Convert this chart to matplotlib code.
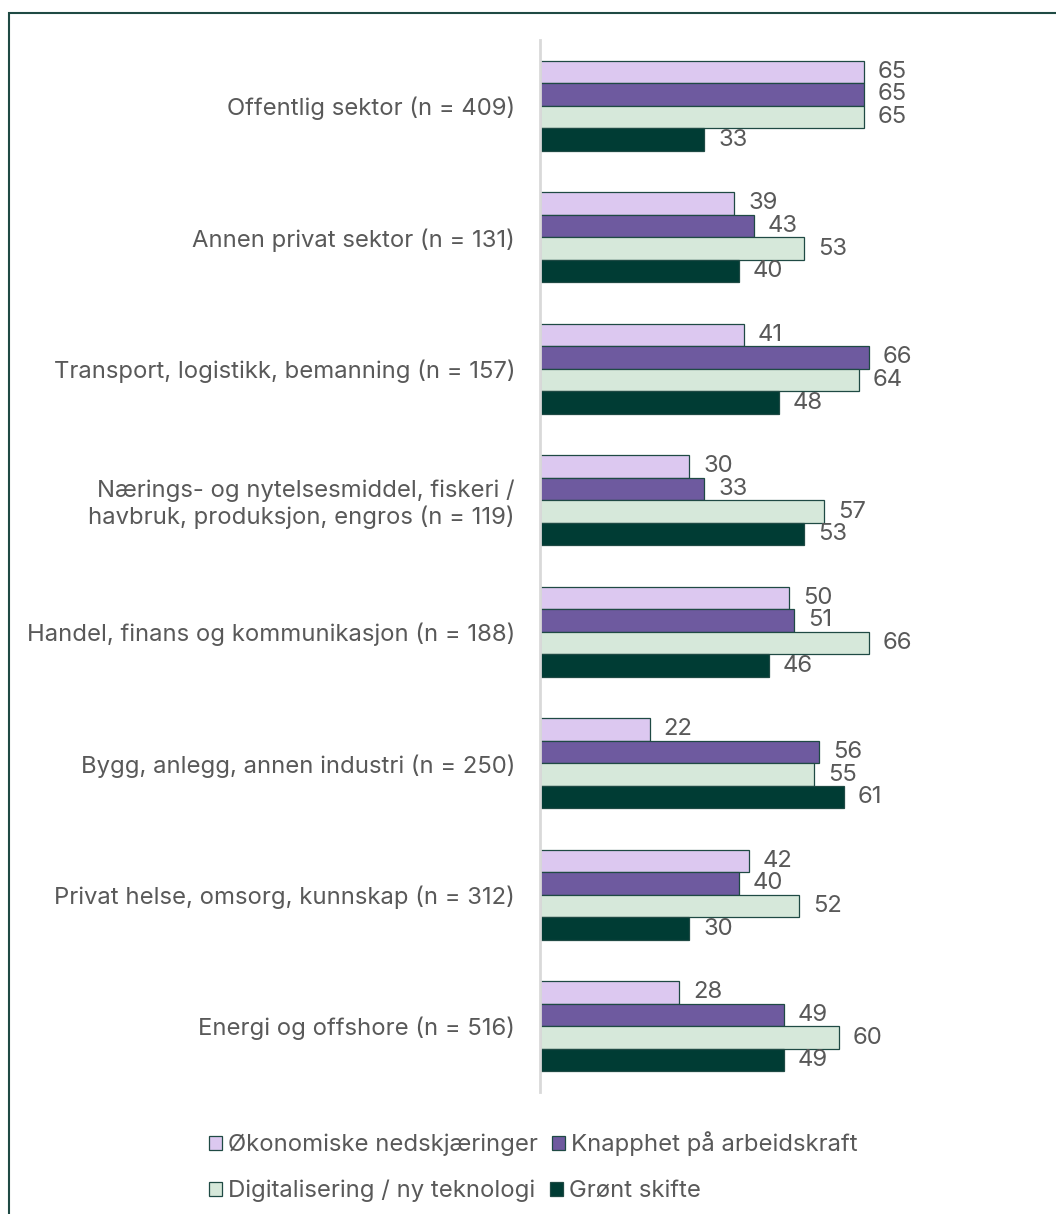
import matplotlib.pyplot as plt
from matplotlib.patches import Rectangle, Patch
import numpy as np

plt.rcParams['font.family'] = ['Inter', 'DejaVu Sans']

kategorier = ['Offentlig sektor (n = 409)',
              'Annen privat sektor (n = 131)',
              'Transport, logistikk, bemanning (n = 157)',
              'Nærings- og nytelsesmiddel, fiskeri /\nhavbruk, produksjon, engros (n = 119)',
              'Handel, finans og kommunikasjon (n = 188)',
              'Bygg, anlegg, annen industri (n = 250)',
              'Privat helse, omsorg, kunnskap (n = 312)',
              'Energi og offshore (n = 516)']
serier = ['Økonomiske nedskjæringer', 'Knapphet på arbeidskraft',
          'Digitalisering / ny teknologi', 'Grønt skifte']
okonomiske = [65, 39, 41, 30, 50, 22, 42, 28]
knapphet = [65, 43, 66, 33, 51, 56, 40, 49]
digitalisering = [65, 53, 64, 57, 66, 55, 52, 60]
gront = [33, 40, 48, 53, 46, 61, 30, 49]
verdier = [okonomiske, knapphet, digitalisering, gront]
farger = ['#DCC8F0', '#6E5A9F', '#D6E8DA', '#003C34']
kant = '#1F4A44'
tekst = '#595959'
fs = 17.2

fig = plt.figure(figsize=(10.56, 12.14), dpi=100)
ax = fig.add_axes([540/1056, 1 - 1092/1214, 498/1056, 1052/1214])

y = np.arange(len(kategorier))
h = 0.1715
for i, (vals, farge) in enumerate(zip(verdier, farger)):
    bars = ax.barh(y + (i - 1.5) * h, vals, height=h, color=farge,
                   edgecolor=kant, linewidth=0.9, label=serier[i])
    ax.bar_label(bars, padding=10, fontsize=fs, color=tekst)

ax.set_xlim(0, 100)
ax.set_ylim(7.5, -0.5)
ax.set_yticks(y)
ax.set_yticklabels(kategorier, fontsize=fs, color=tekst)
ax.tick_params(axis='y', length=0, pad=18)
ax.set_xticks([])
for s in ['top', 'right', 'bottom']:
    ax.spines[s].set_visible(False)
ax.spines['left'].set_color('#D9D9D9')
ax.spines['left'].set_linewidth(2)

handles = [Patch(facecolor=f, edgecolor=kant, linewidth=0.9) for f in farger]
leg_kw = dict(ncol=2, frameon=False, fontsize=fs, handlelength=0.55,
              handleheight=0.55, handletextpad=0.25, columnspacing=0.6,
              labelcolor=tekst, borderaxespad=0, borderpad=0)
leg1 = fig.legend(handles[:2], serier[:2], loc='center left',
                  bbox_to_anchor=(209/1056, 1 - 1144/1214), **leg_kw)
leg2 = fig.legend(handles[2:], serier[2:], loc='center left',
                  bbox_to_anchor=(209/1056, 1 - 1191/1214), **leg_kw)

# ramme rundt hele figuren
fig.patches.append(Rectangle((9/1056, -0.05), 1.1, 1 - 12.5/1214 + 0.05,
                             transform=fig.transFigure, fill=False,
                             edgecolor=kant, linewidth=1.5))

fig.savefig('out.png', dpi=100)
